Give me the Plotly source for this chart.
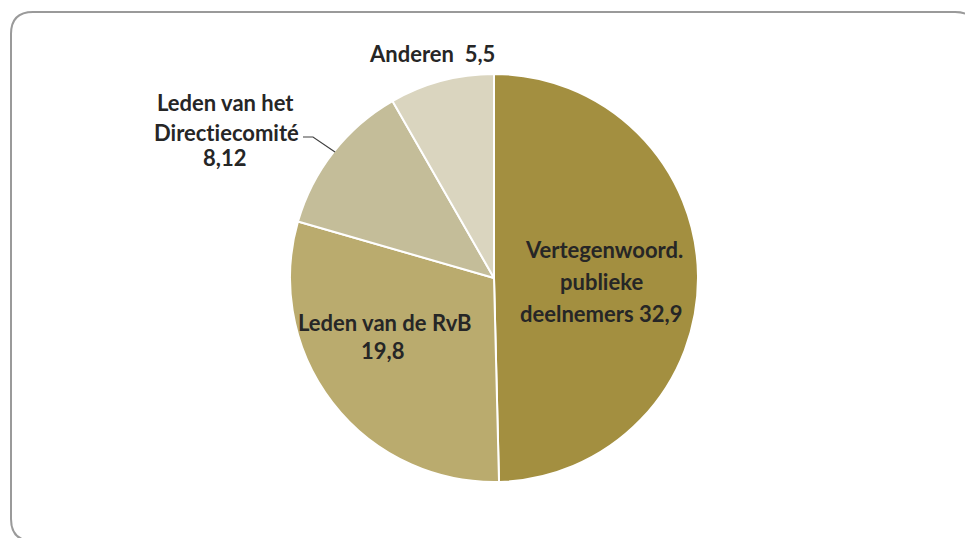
import plotly.graph_objects as go

labels = ["Vertegenwoord. publieke deelnemers", "Leden van de RvB", "Leden van het Directiecomité", "Anderen"]
values = [32.9, 19.8, 8.12, 5.5]
value_text = ["32,9", "19,8", "8,12", "5,5"]
colors = ["#A38F40", "#BAAB6E", "#C4BD99", "#DAD5BF"]

W, H = 965, 538

def px(x):
    return x / W

def py(y):
    return 1 - y / H

cx, cy, r = 494, 278, 204

fig = go.Figure()
fig.add_trace(go.Pie(
    labels=labels, values=values,
    marker=dict(colors=colors, line=dict(color="white", width=2)),
    sort=False, direction="clockwise", rotation=0,
    textinfo="none", hoverinfo="label+value",
    domain=dict(x=[px(cx - r), px(cx + r)], y=[py(cy + r), py(cy - r)]),
    showlegend=False,
))

ZWNJ = "\u200c"
font = dict(family="Lato, Carlito, Calibri, sans-serif", size=22, color="#262626")
label_lines = [
    (["Vertegenwoord.", "publieke", "deelnemers " + value_text[0]], [(604, 249), (601, 281), (601, 313)]),
    (["Leden van de RvB", value_text[1]], [(385, 322), (382, 350)]),
    (["Leden van het", "Direct" + ZWNJ + "iecomité", value_text[2]], [(225, 102), (226, 133), (224, 158)]),
    ([labels[3] + "  " + value_text[3]], [(432, 54)]),
]
for lines, poss in label_lines:
    for t, (x, y) in zip(lines, poss):
        fig.add_annotation(x=px(x), y=py(y), xref="paper", yref="paper", text="<b>" + t + "</b>",
                           showarrow=False, font=font, xanchor="center", yanchor="middle")

fig.add_shape(type="path", xref="paper", yref="paper",
              path=f"M {px(303)} {py(137)} L {px(313)} {py(137)} L {px(335)} {py(152)}",
              line=dict(color="#404040", width=1.2))

x0, y0, x1, y1, rr = 11, 12, 977, 541, 22
path = (f"M {px(x0)} {py(y0 + rr)} Q {px(x0)} {py(y0)} {px(x0 + rr)} {py(y0)} "
        f"L {px(x1 - rr)} {py(y0)} Q {px(x1)} {py(y0)} {px(x1)} {py(y0 + rr)} "
        f"L {px(x1)} {py(y1 - rr)} Q {px(x1)} {py(y1)} {px(x1 - rr)} {py(y1)} "
        f"L {px(x0 + rr)} {py(y1)} Q {px(x0)} {py(y1)} {px(x0)} {py(y1 - rr)} Z")
fig.add_shape(type="path", xref="paper", yref="paper", path=path,
              line=dict(color="#9A9A9A", width=2), layer="below")

fig.update_layout(width=W, height=H, margin=dict(l=0, r=0, t=0, b=0),
                  paper_bgcolor="white", plot_bgcolor="white")
fig.write_html("out.html")
